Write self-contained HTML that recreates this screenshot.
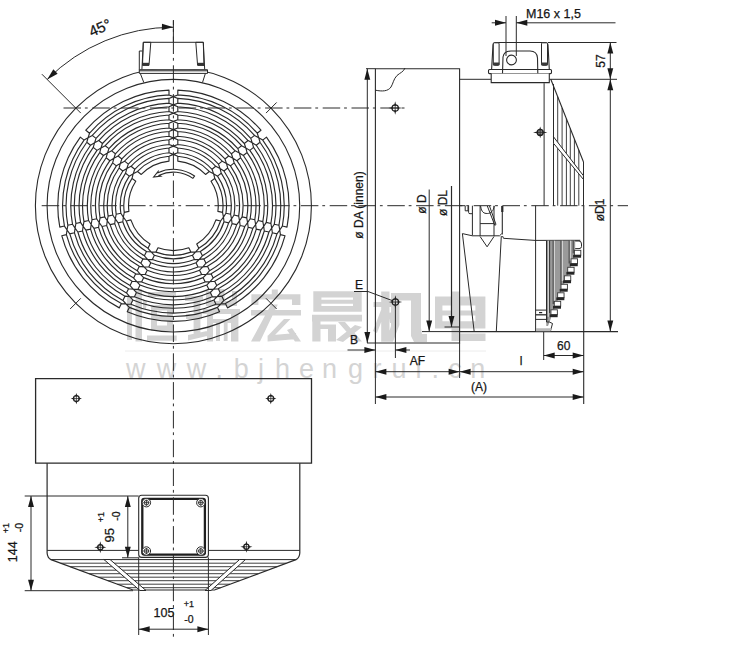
<!DOCTYPE html>
<html><head><meta charset="utf-8"><style>
html,body{margin:0;padding:0;background:#fff;width:750px;height:647px;overflow:hidden}
svg{display:block}
text{font-family:"Liberation Sans",sans-serif}
</style></head><body>
<svg width="750" height="647" viewBox="0 0 750 647">
<rect width="750" height="647" fill="#fff"/>
<path d="M127,297h5v43h-5ZM135.5,289h6.5v52.6h-6.5ZM143,299 L147,301 L146,309 L143,308ZM148,292h28v5h-28ZM151,305h22v5.5h-22ZM151,325.5h22v5.5h-22ZM151,305h6v26h-6ZM167,305h6v26h-6ZM151,316h22v5h-22ZM147,335.5h29.7v5.2h-29.7ZM185,296h18v5h-18ZM186,314h16v5h-16ZM193.6,296h6.8v41h-6.8ZM188,335 L207,331 L207,336 L188,340.4ZM206,291h5v14h-5ZM219,289h5.5v16h-5.5ZM232,291h5v14h-5ZM206,301h31v5h-31ZM203,309h37v5h-37ZM207,314h6v27.4h-6ZM231,314h7.4v27.4h-7.4ZM213,319h18v4h-18ZM216,321h4v20h-4ZM223.8,321h3.8v20h-3.8ZM271.8,289.5h6v6h-6ZM251.4,294.3h49v5.3h-49ZM251.4,294.3h7v10.6h-7ZM292,294.3h8.4v10.6h-8.4ZM251,310h50v5.5h-50ZM271,304.5 L277.8,304.5 L260,341.5 L251,341.5ZM284,319 L290.5,319 L274,336 L267.6,336ZM267.6,335.5 L296,333 L297,339 L267.6,341.5ZM287,330 L292,328 L301,341.5 L295,341.5ZM313.3,291.2h48.4v6.2h-48.4ZM313.3,299.8h48.4v3.9h-48.4ZM313.3,306h48.4v5.8h-48.4ZM313.3,291.2h8.1v20.6h-8.1ZM353,291.2h8.7v20.6h-8.7ZM312,314.7h50v6.7h-50ZM312.3,314.7h8.2v26.8h-8.2ZM320.5,324.5h15.5v4.5h-15.5ZM328,324.5h8v17h-8ZM338,322 L345,322 L362,341.5 L355,341.5ZM355,325 L362,327 L343,342 L336,340ZM381.2,291.4h8.3v50.4h-8.3ZM373.5,302h19v5h-19ZM381,310 L385,312 L377,333 L373,331ZM389,313 L392,312 L393,322 L390,323ZM391,293 L399.4,293 L399.4,325 L393,341.8 L386,341.8 L391,326ZM391,293h30v7.5h-30ZM411,293h10v37h-10ZM411,328 L421,328 L422,334 L427,334 L427,342 L414,342 L411,336ZM435,296.4h50.4v9.1h-50.4ZM435,310.4h50.4v5h-50.4ZM435,321.2h50.4v7.4h-50.4ZM435,296.4h7.4v32.2h-7.4ZM475.4,296.4h10v32.2h-10ZM450.8,296.4h9.6v32.2h-9.6ZM451.5,291.4h8.2v6h-8.2ZM451.5,328h8.2v13h-8.2ZM451.5,333.6h34v7.4h-34Z" fill="#d3d3d3" fill-rule="nonzero"/>
<line x1="125" y1="351" x2="486" y2="351" stroke="#ececec" stroke-width="1"/>
<text x="126 156.7 186.7 215.5 233.7 257.9 274.9 299.1 321.9 348 372.6 391.4 415.6 431.5 448.3 470.3" y="378" font-size="27" fill="#d4d4d4" font-family="Liberation Sans, sans-serif">www.bjhengrui.cn</text>
<line x1="40.5" y1="205.7" x2="628" y2="205.7" stroke="#2a2a2a" stroke-width="1.0" stroke-dasharray="17.5 3.9 2.8 4.6" stroke-dashoffset="27.6"/>
<line x1="63.5" y1="108" x2="405" y2="108" stroke="#2a2a2a" stroke-width="1.0" stroke-dasharray="17.5 3.9 2.8 4.6" stroke-dashoffset="0"/>
<circle cx="173.4" cy="205.7" r="138" fill="none" stroke="#2a2a2a" stroke-width="1.1"/>
<circle cx="173.4" cy="205.7" r="126.3" fill="none" stroke="#2a2a2a" stroke-width="1.1"/>
<path d="M169,90.18 A115.6,115.6 0 0 0 85.83,130.24 L89.55,133.2 A110.85,110.85 0 0 1 169,94.94 Z M169,98.44 A107.35,107.35 0 0 0 92.28,135.38 L96,138.35 A102.6,102.6 0 0 1 169,103.19 Z M169,106.7 A99.1,99.1 0 0 0 98.74,140.53 L102.46,143.5 A94.35,94.35 0 0 1 169,111.45 Z M169,114.96 A90.85,90.85 0 0 0 105.2,145.68 L108.92,148.65 A86.1,86.1 0 0 1 169,119.71 Z M169,123.22 A82.6,82.6 0 0 0 111.66,150.83 L115.38,153.8 A77.85,77.85 0 0 1 169,127.97 Z M169,131.48 A74.35,74.35 0 0 0 118.12,155.98 L121.84,158.95 A69.6,69.6 0 0 1 169,136.24 Z M169,139.75 A66.1,66.1 0 0 0 124.58,161.14 L128.3,164.11 A61.35,61.35 0 0 1 169,144.51 Z M169,148.02 A57.85,57.85 0 0 0 131.05,166.3 L134.77,169.27 A53.1,53.1 0 0 1 169,152.78 Z M169,156.3 A49.6,49.6 0 0 0 137.52,171.46 L141.25,174.43 A44.85,44.85 0 0 1 169,161.07 Z M169,94.94 L173.4,96.6 M177.8,94.94 L173.4,96.6 M169,98.44 L173.4,96.6 M177.8,98.44 L173.4,96.6 M169,103.19 L173.4,104.85 M177.8,103.19 L173.4,104.85 M169,106.7 L173.4,104.85 M177.8,106.7 L173.4,104.85 M169,111.45 L173.4,113.1 M177.8,111.45 L173.4,113.1 M169,114.96 L173.4,113.1 M177.8,114.96 L173.4,113.1 M169,119.71 L173.4,121.35 M177.8,119.71 L173.4,121.35 M169,123.22 L173.4,121.35 M177.8,123.22 L173.4,121.35 M169,127.97 L173.4,129.6 M177.8,127.97 L173.4,129.6 M169,131.48 L173.4,129.6 M177.8,131.48 L173.4,129.6 M169,136.24 L173.4,137.85 M177.8,136.24 L173.4,137.85 M169,139.75 L173.4,137.85 M177.8,139.75 L173.4,137.85 M169,144.51 L173.4,146.1 M177.8,144.51 L173.4,146.1 M169,148.02 L173.4,146.1 M177.8,148.02 L173.4,146.1 M169,152.78 L173.4,154.35 M177.8,152.78 L173.4,154.35 M169,156.3 L173.4,154.35 M177.8,156.3 L173.4,154.35 M80.34,137.12 A115.6,115.6 0 0 0 59.8,227.12 L64.44,226.06 A110.85,110.85 0 0 1 84.06,140.08 Z M86.8,142.26 A107.35,107.35 0 0 0 67.85,225.28 L72.49,224.22 A102.6,102.6 0 0 1 90.51,145.23 Z M93.25,147.41 A99.1,99.1 0 0 0 75.9,223.44 L80.54,222.38 A94.35,94.35 0 0 1 96.97,150.38 Z M99.71,152.56 A90.85,90.85 0 0 0 83.95,221.6 L88.59,220.54 A86.1,86.1 0 0 1 103.43,155.53 Z M106.17,157.71 A82.6,82.6 0 0 0 92.01,219.76 L96.64,218.71 A77.85,77.85 0 0 1 109.89,160.68 Z M112.63,162.86 A74.35,74.35 0 0 0 100.06,217.93 L104.7,216.87 A69.6,69.6 0 0 1 116.35,165.83 Z M119.09,168.02 A66.1,66.1 0 0 0 108.12,216.09 L112.76,215.03 A61.35,61.35 0 0 1 122.81,170.99 Z M125.56,173.18 A57.85,57.85 0 0 0 116.18,214.25 L120.83,213.19 A53.1,53.1 0 0 1 129.28,176.15 Z M132.03,178.34 A49.6,49.6 0 0 0 124.26,212.4 L128.91,211.34 A44.85,44.85 0 0 1 135.76,181.31 Z M84.06,140.08 L88.1,137.68 M89.55,133.2 L88.1,137.68 M86.8,142.26 L88.1,137.68 M92.28,135.38 L88.1,137.68 M90.51,145.23 L94.55,142.82 M96,138.35 L94.55,142.82 M93.25,147.41 L94.55,142.82 M98.74,140.53 L94.55,142.82 M96.97,150.38 L101,147.96 M102.46,143.5 L101,147.96 M99.71,152.56 L101,147.96 M105.2,145.68 L101,147.96 M103.43,155.53 L107.45,153.11 M108.92,148.65 L107.45,153.11 M106.17,157.71 L107.45,153.11 M111.66,150.83 L107.45,153.11 M109.89,160.68 L113.9,158.25 M115.38,153.8 L113.9,158.25 M112.63,162.86 L113.9,158.25 M118.12,155.98 L113.9,158.25 M116.35,165.83 L120.35,163.4 M121.84,158.95 L120.35,163.4 M119.09,168.02 L120.35,163.4 M124.58,161.14 L120.35,163.4 M122.81,170.99 L126.8,168.54 M128.3,164.11 L126.8,168.54 M125.56,173.18 L126.8,168.54 M131.05,166.3 L126.8,168.54 M129.28,176.15 L133.25,173.68 M134.77,169.27 L133.25,173.68 M132.03,178.34 L133.25,173.68 M137.52,171.46 L133.25,173.68 M61.76,235.69 A115.6,115.6 0 0 0 119.32,307.87 L121.38,303.58 A110.85,110.85 0 0 1 66.39,234.64 Z M69.81,233.86 A107.35,107.35 0 0 0 122.9,300.43 L124.96,296.15 A102.6,102.6 0 0 1 74.44,232.8 Z M77.86,232.02 A99.1,99.1 0 0 0 126.48,292.99 L128.54,288.7 A94.35,94.35 0 0 1 82.49,230.96 Z M85.91,230.18 A90.85,90.85 0 0 0 130.06,285.55 L132.13,281.26 A86.1,86.1 0 0 1 90.55,229.12 Z M93.96,228.34 A82.6,82.6 0 0 0 133.65,278.11 L135.71,273.82 A77.85,77.85 0 0 1 98.6,227.29 Z M102.02,226.51 A74.35,74.35 0 0 0 137.23,270.66 L139.3,266.37 A69.6,69.6 0 0 1 106.66,225.45 Z M110.08,224.67 A66.1,66.1 0 0 0 140.82,263.21 L142.89,258.92 A61.35,61.35 0 0 1 114.72,223.61 Z M118.14,222.83 A57.85,57.85 0 0 0 144.41,255.76 L146.48,251.47 A53.1,53.1 0 0 1 122.79,221.76 Z M126.21,220.98 A49.6,49.6 0 0 0 148,248.3 L150.07,244 A44.85,44.85 0 0 1 130.86,219.92 Z M66.39,234.64 L67.04,229.98 M64.44,226.06 L67.04,229.98 M69.81,233.86 L67.04,229.98 M67.85,225.28 L67.04,229.98 M74.44,232.8 L75.08,228.14 M72.49,224.22 L75.08,228.14 M77.86,232.02 L75.08,228.14 M75.9,223.44 L75.08,228.14 M82.49,230.96 L83.12,226.31 M80.54,222.38 L83.12,226.31 M85.91,230.18 L83.12,226.31 M83.95,221.6 L83.12,226.31 M90.55,229.12 L91.16,224.47 M88.59,220.54 L91.16,224.47 M93.96,228.34 L91.16,224.47 M92.01,219.76 L91.16,224.47 M98.6,227.29 L99.21,222.63 M96.64,218.71 L99.21,222.63 M102.02,226.51 L99.21,222.63 M100.06,217.93 L99.21,222.63 M106.66,225.45 L107.25,220.8 M104.7,216.87 L107.25,220.8 M110.08,224.67 L107.25,220.8 M108.12,216.09 L107.25,220.8 M114.72,223.61 L115.29,218.96 M112.76,215.03 L115.29,218.96 M118.14,222.83 L115.29,218.96 M116.18,214.25 L115.29,218.96 M122.79,221.76 L123.34,217.13 M120.83,213.19 L123.34,217.13 M126.21,220.98 L123.34,217.13 M124.26,212.4 L123.34,217.13 M127.24,311.69 A115.6,115.6 0 0 0 219.56,311.69 L217.49,307.4 A110.85,110.85 0 0 1 129.31,307.4 Z M130.83,304.25 A107.35,107.35 0 0 0 215.97,304.25 L213.91,299.96 A102.6,102.6 0 0 1 132.89,299.96 Z M134.41,296.81 A99.1,99.1 0 0 0 212.39,296.81 L210.33,292.52 A94.35,94.35 0 0 1 136.47,292.52 Z M137.99,289.37 A90.85,90.85 0 0 0 208.81,289.37 L206.74,285.08 A86.1,86.1 0 0 1 140.06,285.08 Z M141.58,281.92 A82.6,82.6 0 0 0 205.22,281.92 L203.16,277.64 A77.85,77.85 0 0 1 143.64,277.64 Z M145.16,274.48 A74.35,74.35 0 0 0 201.64,274.48 L199.57,270.19 A69.6,69.6 0 0 1 147.23,270.19 Z M148.75,267.03 A66.1,66.1 0 0 0 198.05,267.03 L195.99,262.74 A61.35,61.35 0 0 1 150.81,262.74 Z M152.34,259.58 A57.85,57.85 0 0 0 194.46,259.58 L192.4,255.29 A53.1,53.1 0 0 1 154.4,255.29 Z M155.93,252.12 A49.6,49.6 0 0 0 190.87,252.12 L188.8,247.82 A44.85,44.85 0 0 1 158,247.82 Z M129.31,307.4 L126.06,304 M121.38,303.58 L126.06,304 M130.83,304.25 L126.06,304 M122.9,300.43 L126.06,304 M132.89,299.96 L129.64,296.56 M124.96,296.15 L129.64,296.56 M134.41,296.81 L129.64,296.56 M126.48,292.99 L129.64,296.56 M136.47,292.52 L133.22,289.13 M128.54,288.7 L133.22,289.13 M137.99,289.37 L133.22,289.13 M130.06,285.55 L133.22,289.13 M140.06,285.08 L136.8,281.7 M132.13,281.26 L136.8,281.7 M141.58,281.92 L136.8,281.7 M133.65,278.11 L136.8,281.7 M143.64,277.64 L140.38,274.26 M135.71,273.82 L140.38,274.26 M145.16,274.48 L140.38,274.26 M137.23,270.66 L140.38,274.26 M147.23,270.19 L143.96,266.83 M139.3,266.37 L143.96,266.83 M148.75,267.03 L143.96,266.83 M140.82,263.21 L143.96,266.83 M150.81,262.74 L147.54,259.4 M142.89,258.92 L147.54,259.4 M152.34,259.58 L147.54,259.4 M144.41,255.76 L147.54,259.4 M154.4,255.29 L151.12,251.96 M146.48,251.47 L151.12,251.96 M155.93,252.12 L151.12,251.96 M148,248.3 L151.12,251.96 M227.48,307.87 A115.6,115.6 0 0 0 285.04,235.69 L280.41,234.64 A110.85,110.85 0 0 1 225.42,303.58 Z M223.9,300.43 A107.35,107.35 0 0 0 276.99,233.86 L272.36,232.8 A102.6,102.6 0 0 1 221.84,296.15 Z M220.32,292.99 A99.1,99.1 0 0 0 268.94,232.02 L264.31,230.96 A94.35,94.35 0 0 1 218.26,288.7 Z M216.74,285.55 A90.85,90.85 0 0 0 260.89,230.18 L256.25,229.12 A86.1,86.1 0 0 1 214.67,281.26 Z M213.15,278.11 A82.6,82.6 0 0 0 252.84,228.34 L248.2,227.29 A77.85,77.85 0 0 1 211.09,273.82 Z M209.57,270.66 A74.35,74.35 0 0 0 244.78,226.51 L240.14,225.45 A69.6,69.6 0 0 1 207.5,266.37 Z M205.98,263.21 A66.1,66.1 0 0 0 236.72,224.67 L232.08,223.61 A61.35,61.35 0 0 1 203.91,258.92 Z M202.39,255.76 A57.85,57.85 0 0 0 228.66,222.83 L224.01,221.76 A53.1,53.1 0 0 1 200.32,251.47 Z M198.8,248.3 A49.6,49.6 0 0 0 220.59,220.98 L215.94,219.92 A44.85,44.85 0 0 1 196.73,244 Z M225.42,303.58 L220.74,304 M217.49,307.4 L220.74,304 M223.9,300.43 L220.74,304 M215.97,304.25 L220.74,304 M221.84,296.15 L217.16,296.56 M213.91,299.96 L217.16,296.56 M220.32,292.99 L217.16,296.56 M212.39,296.81 L217.16,296.56 M218.26,288.7 L213.58,289.13 M210.33,292.52 L213.58,289.13 M216.74,285.55 L213.58,289.13 M208.81,289.37 L213.58,289.13 M214.67,281.26 L210,281.7 M206.74,285.08 L210,281.7 M213.15,278.11 L210,281.7 M205.22,281.92 L210,281.7 M211.09,273.82 L206.42,274.26 M203.16,277.64 L206.42,274.26 M209.57,270.66 L206.42,274.26 M201.64,274.48 L206.42,274.26 M207.5,266.37 L202.84,266.83 M199.57,270.19 L202.84,266.83 M205.98,263.21 L202.84,266.83 M198.05,267.03 L202.84,266.83 M203.91,258.92 L199.26,259.4 M195.99,262.74 L199.26,259.4 M202.39,255.76 L199.26,259.4 M194.46,259.58 L199.26,259.4 M200.32,251.47 L195.68,251.96 M192.4,255.29 L195.68,251.96 M198.8,248.3 L195.68,251.96 M190.87,252.12 L195.68,251.96 M287,227.12 A115.6,115.6 0 0 0 266.46,137.12 L262.74,140.08 A110.85,110.85 0 0 1 282.36,226.06 Z M278.95,225.28 A107.35,107.35 0 0 0 260,142.26 L256.29,145.23 A102.6,102.6 0 0 1 274.31,224.22 Z M270.9,223.44 A99.1,99.1 0 0 0 253.55,147.41 L249.83,150.38 A94.35,94.35 0 0 1 266.26,222.38 Z M262.85,221.6 A90.85,90.85 0 0 0 247.09,152.56 L243.37,155.53 A86.1,86.1 0 0 1 258.21,220.54 Z M254.79,219.76 A82.6,82.6 0 0 0 240.63,157.71 L236.91,160.68 A77.85,77.85 0 0 1 250.16,218.71 Z M246.74,217.93 A74.35,74.35 0 0 0 234.17,162.86 L230.45,165.83 A69.6,69.6 0 0 1 242.1,216.87 Z M238.68,216.09 A66.1,66.1 0 0 0 227.71,168.02 L223.99,170.99 A61.35,61.35 0 0 1 234.04,215.03 Z M230.62,214.25 A57.85,57.85 0 0 0 221.24,173.18 L217.52,176.15 A53.1,53.1 0 0 1 225.97,213.19 Z M222.54,212.4 A49.6,49.6 0 0 0 214.77,178.34 L211.04,181.31 A44.85,44.85 0 0 1 217.89,211.34 Z M282.36,226.06 L279.76,229.98 M280.41,234.64 L279.76,229.98 M278.95,225.28 L279.76,229.98 M276.99,233.86 L279.76,229.98 M274.31,224.22 L271.72,228.14 M272.36,232.8 L271.72,228.14 M270.9,223.44 L271.72,228.14 M268.94,232.02 L271.72,228.14 M266.26,222.38 L263.68,226.31 M264.31,230.96 L263.68,226.31 M262.85,221.6 L263.68,226.31 M260.89,230.18 L263.68,226.31 M258.21,220.54 L255.64,224.47 M256.25,229.12 L255.64,224.47 M254.79,219.76 L255.64,224.47 M252.84,228.34 L255.64,224.47 M250.16,218.71 L247.59,222.63 M248.2,227.29 L247.59,222.63 M246.74,217.93 L247.59,222.63 M244.78,226.51 L247.59,222.63 M242.1,216.87 L239.55,220.8 M240.14,225.45 L239.55,220.8 M238.68,216.09 L239.55,220.8 M236.72,224.67 L239.55,220.8 M234.04,215.03 L231.51,218.96 M232.08,223.61 L231.51,218.96 M230.62,214.25 L231.51,218.96 M228.66,222.83 L231.51,218.96 M225.97,213.19 L223.46,217.13 M224.01,221.76 L223.46,217.13 M222.54,212.4 L223.46,217.13 M220.59,220.98 L223.46,217.13 M260.97,130.24 A115.6,115.6 0 0 0 177.8,90.18 L177.8,94.94 A110.85,110.85 0 0 1 257.25,133.2 Z M254.52,135.38 A107.35,107.35 0 0 0 177.8,98.44 L177.8,103.19 A102.6,102.6 0 0 1 250.8,138.35 Z M248.06,140.53 A99.1,99.1 0 0 0 177.8,106.7 L177.8,111.45 A94.35,94.35 0 0 1 244.34,143.5 Z M241.6,145.68 A90.85,90.85 0 0 0 177.8,114.96 L177.8,119.71 A86.1,86.1 0 0 1 237.88,148.65 Z M235.14,150.83 A82.6,82.6 0 0 0 177.8,123.22 L177.8,127.97 A77.85,77.85 0 0 1 231.42,153.8 Z M228.68,155.98 A74.35,74.35 0 0 0 177.8,131.48 L177.8,136.24 A69.6,69.6 0 0 1 224.96,158.95 Z M222.22,161.14 A66.1,66.1 0 0 0 177.8,139.75 L177.8,144.51 A61.35,61.35 0 0 1 218.5,164.11 Z M215.75,166.3 A57.85,57.85 0 0 0 177.8,148.02 L177.8,152.78 A53.1,53.1 0 0 1 212.03,169.27 Z M209.28,171.46 A49.6,49.6 0 0 0 177.8,156.3 L177.8,161.07 A44.85,44.85 0 0 1 205.55,174.43 Z M257.25,133.2 L258.7,137.68 M262.74,140.08 L258.7,137.68 M254.52,135.38 L258.7,137.68 M260,142.26 L258.7,137.68 M250.8,138.35 L252.25,142.82 M256.29,145.23 L252.25,142.82 M248.06,140.53 L252.25,142.82 M253.55,147.41 L252.25,142.82 M244.34,143.5 L245.8,147.96 M249.83,150.38 L245.8,147.96 M241.6,145.68 L245.8,147.96 M247.09,152.56 L245.8,147.96 M237.88,148.65 L239.35,153.11 M243.37,155.53 L239.35,153.11 M235.14,150.83 L239.35,153.11 M240.63,157.71 L239.35,153.11 M231.42,153.8 L232.9,158.25 M236.91,160.68 L232.9,158.25 M228.68,155.98 L232.9,158.25 M234.17,162.86 L232.9,158.25 M224.96,158.95 L226.45,163.4 M230.45,165.83 L226.45,163.4 M222.22,161.14 L226.45,163.4 M227.71,168.02 L226.45,163.4 M218.5,164.11 L220,168.54 M223.99,170.99 L220,168.54 M215.75,166.3 L220,168.54 M221.24,173.18 L220,168.54 M212.03,169.27 L213.55,173.68 M217.52,176.15 L213.55,173.68 M209.28,171.46 L213.55,173.68 M214.77,178.34 L213.55,173.68" fill="none" stroke="#2a2a2a" stroke-width="1.15" stroke-linejoin="round"/>
<path d="M194.54,176.07 A36.4,36.4 0 0 0 158.02,172.71 L158.11,171.35 L153.63,176.94 L160.82,176.06 L159.2,175.25 A33.6,33.6 0 0 1 192.91,178.35 Z" fill="none" stroke="#2a2a2a" stroke-width="1.1" />
<path d="M173.4,27.2 A178.5,178.5 0 0 0 47.18,79.48" fill="none" stroke="#2a2a2a" stroke-width="1.0" />
<polygon points="173.4,27.2 161.81,29.95 162,23.76" fill="#1a1a1a"/>
<polygon points="47.18,79.48 53.34,69.29 57.63,73.76" fill="#1a1a1a"/>
<line x1="41.88" y1="74.18" x2="80.77" y2="113.07" stroke="#2a2a2a" stroke-width="1.0"/>
<line x1="266.03" y1="113.07" x2="276.64" y2="102.46" stroke="#2a2a2a" stroke-width="1.0"/>
<line x1="80.77" y1="298.33" x2="70.16" y2="308.94" stroke="#2a2a2a" stroke-width="1.0"/>
<line x1="266.03" y1="298.33" x2="276.64" y2="308.94" stroke="#2a2a2a" stroke-width="1.0"/>
<text x="102" y="32.5" font-size="15" text-anchor="middle" fill="#161616" stroke="#161616" stroke-width="0.25" transform="rotate(-24 102 32.5)" >45°</text>
<g>
<polyline points="139.3,70 139.3,51 142.5,51" fill="none" stroke="#2a2a2a" stroke-width="1.0"/>
<polyline points="141.9,69.7 143.3,42.3 203.3,42.3 204.7,69.7" fill="#fff" stroke="#2a2a2a" stroke-width="1.0"/>
<polygon points="143.3,42.3 150.8,42.3 149,65.4 142.5,65.4" fill="none" stroke="#2a2a2a" stroke-width="1.0"/>
<polygon points="195.8,42.3 203.3,42.3 204,65.4 197.6,65.4" fill="none" stroke="#2a2a2a" stroke-width="1.0"/>
<rect x="142.8" y="62.8" width="6.2" height="2.6" fill="#333"/>
<rect x="197.8" y="62.8" width="6.2" height="2.6" fill="#333"/>
<polygon points="139.3,69.7 207.5,69.7 207.5,73.4 139.3,73.4" fill="#fff" stroke="#2a2a2a" stroke-width="1.0"/>
<line x1="139.3" y1="70.8" x2="207.5" y2="70.8" stroke="#2a2a2a" stroke-width="1.0"/>
<polyline points="140.3,73.4 143.8,82.5" fill="none" stroke="#2a2a2a" stroke-width="1.0"/>
<polyline points="205.4,73.4 202.5,82.5" fill="none" stroke="#2a2a2a" stroke-width="1.0"/>
</g>
<polygon points="375.4,68.7 459.6,68.7 459.6,343 375.4,343" fill="none" stroke="#2a2a2a" stroke-width="1.1"/>
<line x1="366" y1="68.7" x2="375.4" y2="68.7" stroke="#2a2a2a" stroke-width="1.0"/>
<line x1="367" y1="343" x2="375.4" y2="343" stroke="#2a2a2a" stroke-width="1.0"/>
<path d="M375.4,90.2 C382,91.5 388,91.5 391,87 C393.2,83.5 393.5,79 397,75.5 C400,72.8 403.5,72 405,68" fill="none" stroke="#2a2a2a" stroke-width="1.0" />
<line x1="367.3" y1="68.7" x2="367.3" y2="343" stroke="#2a2a2a" stroke-width="1.0"/>
<polygon points="367.3,68.7 370.25,79.7 364.35,79.7" fill="#1a1a1a"/>
<polygon points="367.3,343 364.35,332 370.25,332" fill="#1a1a1a"/>
<text x="362.5" y="205" font-size="12" text-anchor="middle" fill="#161616" stroke="#161616" stroke-width="0.25" transform="rotate(-90 362.5 205)" >ø DA (innen)</text>
<circle cx="395.2" cy="108" r="3.2" fill="none" stroke="#1e1e1e" stroke-width="1.25"/>
<polygon points="402,108 397.44,109.1 397.44,106.9" fill="#1e1e1e"/>
<polygon points="388.4,108 392.96,106.9 392.96,109.1" fill="#1e1e1e"/>
<polygon points="395.2,114.8 394.1,110.24 396.3,110.24" fill="#1e1e1e"/>
<polygon points="395.2,101.2 396.3,105.76 394.1,105.76" fill="#1e1e1e"/>
<line x1="392" y1="108" x2="398.4" y2="108" stroke="#2a2a2a" stroke-width="0.8"/>
<line x1="395.2" y1="104.8" x2="395.2" y2="111.2" stroke="#2a2a2a" stroke-width="0.8"/>
<circle cx="395.4" cy="302" r="3.2" fill="none" stroke="#1e1e1e" stroke-width="1.25"/>
<polygon points="402.2,302 397.64,303.1 397.64,300.9" fill="#1e1e1e"/>
<polygon points="388.6,302 393.16,300.9 393.16,303.1" fill="#1e1e1e"/>
<polygon points="395.4,308.8 394.3,304.24 396.5,304.24" fill="#1e1e1e"/>
<polygon points="395.4,295.2 396.5,299.76 394.3,299.76" fill="#1e1e1e"/>
<line x1="392.2" y1="302" x2="398.6" y2="302" stroke="#2a2a2a" stroke-width="0.8"/>
<line x1="395.4" y1="298.8" x2="395.4" y2="305.2" stroke="#2a2a2a" stroke-width="0.8"/>
<line x1="395.4" y1="302" x2="395.4" y2="358" stroke="#2a2a2a" stroke-width="1.0"/>
<text x="359" y="289" font-size="12" text-anchor="middle" fill="#161616" stroke="#161616" stroke-width="0.25" >E</text>
<polyline points="354,291.5 368,291.5 392,300.5" fill="none" stroke="#2a2a2a" stroke-width="1.0"/>
<line x1="347.5" y1="350" x2="375.4" y2="350" stroke="#2a2a2a" stroke-width="1.0"/>
<polygon points="375.4,350 364.4,352.95 364.4,347.05" fill="#1a1a1a"/>
<line x1="395.4" y1="350" x2="410" y2="350" stroke="#2a2a2a" stroke-width="1.0"/>
<polygon points="395.4,350 406.4,347.05 406.4,352.95" fill="#1a1a1a"/>
<text x="354" y="344" font-size="12" text-anchor="middle" fill="#161616" stroke="#161616" stroke-width="0.25" >B</text>
<line x1="375.4" y1="343" x2="375.4" y2="404" stroke="#2a2a2a" stroke-width="1.0"/>
<line x1="459.6" y1="343" x2="459.6" y2="378" stroke="#2a2a2a" stroke-width="1.0"/>
<line x1="583.7" y1="205.7" x2="583.7" y2="404" stroke="#2a2a2a" stroke-width="1.1"/>
<line x1="375.4" y1="371.7" x2="459.6" y2="371.7" stroke="#2a2a2a" stroke-width="1.0"/>
<polygon points="375.4,371.7 386.4,368.75 386.4,374.65" fill="#1a1a1a"/>
<polygon points="459.6,371.7 448.6,374.65 448.6,368.75" fill="#1a1a1a"/>
<text x="417.5" y="365" font-size="12" text-anchor="middle" fill="#161616" stroke="#161616" stroke-width="0.25" >AF</text>
<line x1="459.6" y1="371.7" x2="583.7" y2="371.7" stroke="#2a2a2a" stroke-width="1.0"/>
<polygon points="459.6,371.7 470.6,368.75 470.6,374.65" fill="#1a1a1a"/>
<polygon points="583.7,371.7 572.7,374.65 572.7,368.75" fill="#1a1a1a"/>
<text x="521" y="365" font-size="12" text-anchor="middle" fill="#161616" stroke="#161616" stroke-width="0.25" >l</text>
<line x1="375.4" y1="397" x2="583.7" y2="397" stroke="#2a2a2a" stroke-width="1.0"/>
<polygon points="375.4,397 386.4,394.05 386.4,399.95" fill="#1a1a1a"/>
<polygon points="583.7,397 572.7,399.95 572.7,394.05" fill="#1a1a1a"/>
<text x="479" y="391" font-size="12" text-anchor="middle" fill="#161616" stroke="#161616" stroke-width="0.25" >(A)</text>
<line x1="543.7" y1="331.6" x2="543.7" y2="360" stroke="#2a2a2a" stroke-width="1.0"/>
<line x1="543.7" y1="355.5" x2="583.7" y2="355.5" stroke="#2a2a2a" stroke-width="1.0"/>
<polygon points="543.7,355.5 554.7,352.55 554.7,358.45" fill="#1a1a1a"/>
<polygon points="583.7,355.5 572.7,358.45 572.7,352.55" fill="#1a1a1a"/>
<text x="563.7" y="350" font-size="12" text-anchor="middle" fill="#161616" stroke="#161616" stroke-width="0.25" >60</text>
<line x1="429.2" y1="189.5" x2="429.2" y2="331.6" stroke="#2a2a2a" stroke-width="1.0"/>
<polygon points="429.2,331.6 426.25,320.6 432.15,320.6" fill="#1a1a1a"/>
<line x1="451.5" y1="186" x2="451.5" y2="327" stroke="#2a2a2a" stroke-width="1.2"/>
<polygon points="451.5,327 448.55,316 454.45,316" fill="#1a1a1a"/>
<line x1="422" y1="331.6" x2="459.6" y2="331.6" stroke="#2a2a2a" stroke-width="1.0"/>
<line x1="444.5" y1="327" x2="459.6" y2="327" stroke="#2a2a2a" stroke-width="1.0"/>
<text x="426" y="204" font-size="12" text-anchor="middle" fill="#161616" stroke="#161616" stroke-width="0.25" transform="rotate(-90 426 204)" >ø D</text>
<text x="447.2" y="203" font-size="12" text-anchor="middle" fill="#161616" stroke="#161616" stroke-width="0.25" transform="rotate(-90 447.2 203)" >ø DL</text>
<line x1="459.6" y1="79.3" x2="491.2" y2="79.3" stroke="#2a2a2a" stroke-width="1.0"/>
<line x1="549.3" y1="79.3" x2="617" y2="79.3" stroke="#2a2a2a" stroke-width="1.0"/>
<line x1="459.6" y1="331.6" x2="618" y2="331.6" stroke="#2a2a2a" stroke-width="1.1"/>
<path d="M493,45 Q493.3,42.5 495.5,42.5 H545.5 Q547.7,42.5 548,45 L549.3,69.5 H491.6 Z" fill="#fff" stroke="#2a2a2a" stroke-width="1.1" />
<rect x="488.5" y="69.5" width="63" height="4.1" rx="1" fill="#fff" stroke="#2a2a2a" stroke-width="1.1"/>
<polyline points="491.2,73.6 491.2,82.6 549.3,82.6 549.3,73.6" fill="#fff" stroke="#2a2a2a" stroke-width="1.1"/>
<rect x="493.3" y="42.8" width="5.8" height="22.5" rx="1" fill="#fff" stroke="#2a2a2a" stroke-width="1.0"/>
<rect x="541.5" y="42.8" width="6" height="22.5" rx="1" fill="#fff" stroke="#2a2a2a" stroke-width="1.0"/>
<rect x="493" y="62.5" width="6.4" height="2.8" fill="#3a3a3a"/>
<rect x="541.2" y="62.5" width="6.6" height="2.8" fill="#3a3a3a"/>
<path d="M502.5,73.3 L503,57 Q504,51 511,51 H530 Q537,51 537.5,58 L537.8,73.3" fill="none" stroke="#2a2a2a" stroke-width="1.1" />
<circle cx="511.5" cy="60" r="4.9" fill="none" stroke="#2a2a2a" stroke-width="1.1"/>
<line x1="506" y1="16" x2="506" y2="56" stroke="#2a2a2a" stroke-width="1.0"/>
<line x1="516.3" y1="16" x2="516.3" y2="56" stroke="#2a2a2a" stroke-width="1.0"/>
<line x1="491.7" y1="22.8" x2="506" y2="22.8" stroke="#2a2a2a" stroke-width="1.0"/>
<polygon points="506,22.8 495,25.75 495,19.85" fill="#1a1a1a"/>
<line x1="516.3" y1="22.8" x2="615.5" y2="22.8" stroke="#2a2a2a" stroke-width="1.0"/>
<polygon points="516.3,22.8 527.3,19.85 527.3,25.75" fill="#1a1a1a"/>
<text x="526" y="17.5" font-size="12.5" text-anchor="start" fill="#161616" stroke="#161616" stroke-width="0.25" >M16 x 1,5</text>
<line x1="548" y1="42.5" x2="616.5" y2="42.5" stroke="#2a2a2a" stroke-width="1.0"/>
<line x1="610.3" y1="42.5" x2="610.3" y2="331.6" stroke="#2a2a2a" stroke-width="1.0"/>
<polygon points="610.3,42.5 613.25,53.5 607.35,53.5" fill="#1a1a1a"/>
<polygon points="610.3,79.3 607.35,68.3 613.25,68.3" fill="#1a1a1a"/>
<polygon points="610.3,79.3 613.25,90.3 607.35,90.3" fill="#1a1a1a"/>
<polygon points="610.3,331.6 607.35,320.6 613.25,320.6" fill="#1a1a1a"/>
<text x="604.5" y="61" font-size="12" text-anchor="middle" fill="#161616" stroke="#161616" stroke-width="0.25" transform="rotate(-90 604.5 61)" >57</text>
<text x="603.5" y="210" font-size="12" text-anchor="middle" fill="#161616" stroke="#161616" stroke-width="0.25" transform="rotate(-90 603.5 210)" >øD1</text>
<circle cx="540.2" cy="132.4" r="3" fill="#888" stroke="#1e1e1e" stroke-width="1.25"/>
<polygon points="547.4,132.4 542.3,133.5 542.3,131.3" fill="#1e1e1e"/>
<polygon points="533,132.4 538.1,131.3 538.1,133.5" fill="#1e1e1e"/>
<polygon points="540.2,138.2 539.1,134.5 541.3,134.5" fill="#1e1e1e"/>
<polygon points="540.2,126.6 541.3,130.3 539.1,130.3" fill="#1e1e1e"/>
<line x1="537.2" y1="132.4" x2="543.2" y2="132.4" stroke="#2a2a2a" stroke-width="0.8"/>
<line x1="540.2" y1="129.4" x2="540.2" y2="135.4" stroke="#2a2a2a" stroke-width="0.8"/>
<line x1="544.1" y1="83.2" x2="544.1" y2="205.7" stroke="#2a2a2a" stroke-width="1.0"/>
<line x1="550.8" y1="79.3" x2="583.5" y2="162" stroke="#2a2a2a" stroke-width="1.1"/>
<line x1="553.5" y1="84" x2="553.5" y2="205.7" stroke="#2a2a2a" stroke-width="1.0"/>
<line x1="557.7" y1="96.75" x2="557.7" y2="205.7" stroke="#2a2a2a" stroke-width="0.9"/>
<line x1="562.1" y1="107.88" x2="562.1" y2="205.7" stroke="#2a2a2a" stroke-width="0.9"/>
<line x1="566.4" y1="118.75" x2="566.4" y2="205.7" stroke="#2a2a2a" stroke-width="0.9"/>
<line x1="570.3" y1="128.62" x2="570.3" y2="205.7" stroke="#2a2a2a" stroke-width="0.9"/>
<line x1="574.4" y1="138.99" x2="574.4" y2="205.7" stroke="#2a2a2a" stroke-width="0.9"/>
<line x1="578.8" y1="150.11" x2="578.8" y2="205.7" stroke="#2a2a2a" stroke-width="0.9"/>
<line x1="583.5" y1="162" x2="583.5" y2="205.7" stroke="#2a2a2a" stroke-width="1.0"/>
<polygon points="553.5,136.8 583.5,175.8 583.5,179.5 553.5,143.3" fill="#fff" stroke="#2a2a2a" stroke-width="1.0"/>
<polyline points="459.6,205.7 465.2,205.7 465.2,210.8 468,210.8 468,206.2" fill="none" stroke="#2a2a2a" stroke-width="1.0"/>
<path d="M468.6,206 V212.5 Q468.6,213.7 470,213.7 H472.4" fill="none" stroke="#2a2a2a" stroke-width="1.0" />
<line x1="472.4" y1="205.7" x2="472.4" y2="235.5" stroke="#2a2a2a" stroke-width="1.0"/>
<line x1="480.1" y1="205.7" x2="480.1" y2="236" stroke="#2a2a2a" stroke-width="1.0"/>
<line x1="494" y1="205.7" x2="494" y2="236" stroke="#2a2a2a" stroke-width="1.0"/>
<line x1="480.1" y1="223.6" x2="494" y2="223.6" stroke="#2a2a2a" stroke-width="1.0"/>
<path d="M480.6,206 C481.5,212.5 484,213.5 487.3,213.5 C491,213.5 493.5,211 494.2,206" fill="none" stroke="#2a2a2a" stroke-width="1.0" />
<polyline points="487.3,206 494.8,225.3 496,224.5 489.5,206" fill="none" stroke="#2a2a2a" stroke-width="1.0"/>
<line x1="502.3" y1="205.7" x2="502.3" y2="234.5" stroke="#2a2a2a" stroke-width="1.1"/>
<line x1="502.3" y1="206" x2="502.3" y2="212" stroke="#2a2a2a" stroke-width="2.2"/>
<polyline points="462.4,233.6 472.4,235.8 499.5,235.8 501.8,233.6" fill="none" stroke="#2a2a2a" stroke-width="1.0"/>
<line x1="462.4" y1="233.6" x2="474.2" y2="331.6" stroke="#2a2a2a" stroke-width="1.0"/>
<line x1="501.3" y1="236" x2="496.3" y2="331.6" stroke="#2a2a2a" stroke-width="1.0"/>
<polyline points="480.1,236.5 487.1,246.8 494,236.5" fill="none" stroke="#2a2a2a" stroke-width="1.0"/>
<polyline points="502.5,236 503.5,238.3 535,240.4 580.3,240.3" fill="none" stroke="#2a2a2a" stroke-width="1.0"/>
<line x1="535.6" y1="205.7" x2="535.6" y2="331.6" stroke="#2a2a2a" stroke-width="1.0"/>
<polygon points="546.3,240.7 575.2,240.7 575.2,250.3 574.4,250.3 574.4,258.8 571.05,258.8 571.05,267.3 567.7,267.3 567.7,275.8 564.35,275.8 564.35,284.3 561,284.3 561,292.8 557.65,292.8 557.65,301.3 554.3,301.3 554.3,309.8 550.95,309.8 550.95,318.3 548,326 546.3,326" fill="#9a9a9a" stroke="none"/>
<line x1="546.8" y1="240.7" x2="546.8" y2="320.33" stroke="#333" stroke-width="1.2"/>
<line x1="548.2" y1="240.7" x2="548.2" y2="316.78" stroke="#fff" stroke-width="0.8"/>
<line x1="549.6" y1="240.7" x2="549.6" y2="313.23" stroke="#333" stroke-width="1.0"/>
<line x1="553.2" y1="240.7" x2="553.2" y2="304.09" stroke="#333" stroke-width="1.0"/>
<line x1="554.3" y1="240.7" x2="554.3" y2="301.3" stroke="#fff" stroke-width="0.7"/>
<line x1="561" y1="240.7" x2="561" y2="284.3" stroke="#333" stroke-width="1.0"/>
<line x1="562.3" y1="240.7" x2="562.3" y2="281" stroke="#fff" stroke-width="0.7"/>
<line x1="569.2" y1="240.7" x2="569.2" y2="263.49" stroke="#333" stroke-width="1.0"/>
<line x1="570.3" y1="240.7" x2="570.3" y2="260.7" stroke="#fff" stroke-width="0.7"/>
<line x1="573.2" y1="240.7" x2="573.2" y2="253.34" stroke="#333" stroke-width="0.9"/>
<rect x="574.4" y="250.3" width="6.4" height="4.9" fill="#fff" stroke="#333" stroke-width="0.9"/>
<rect x="573.1" y="254.9" width="8" height="2.8" fill="#262626"/>
<rect x="571.05" y="258.8" width="6.4" height="4.9" fill="#fff" stroke="#333" stroke-width="0.9"/>
<rect x="569.75" y="263.4" width="8" height="2.8" fill="#262626"/>
<rect x="567.7" y="267.3" width="6.4" height="4.9" fill="#fff" stroke="#333" stroke-width="0.9"/>
<rect x="566.4" y="271.9" width="8" height="2.8" fill="#262626"/>
<rect x="564.35" y="275.8" width="6.4" height="4.9" fill="#fff" stroke="#333" stroke-width="0.9"/>
<rect x="563.05" y="280.4" width="8" height="2.8" fill="#262626"/>
<rect x="561" y="284.3" width="6.4" height="4.9" fill="#fff" stroke="#333" stroke-width="0.9"/>
<rect x="559.7" y="288.9" width="8" height="2.8" fill="#262626"/>
<rect x="557.65" y="292.8" width="6.4" height="4.9" fill="#fff" stroke="#333" stroke-width="0.9"/>
<rect x="556.35" y="297.4" width="8" height="2.8" fill="#262626"/>
<rect x="554.3" y="301.3" width="6.4" height="4.9" fill="#fff" stroke="#333" stroke-width="0.9"/>
<rect x="553" y="305.9" width="8" height="2.8" fill="#262626"/>
<rect x="550.95" y="309.8" width="6.4" height="4.9" fill="#fff" stroke="#333" stroke-width="0.9"/>
<rect x="549.65" y="314.4" width="8" height="2.8" fill="#262626"/>
<path d="M575.2,241 H579 Q581.5,241 581.5,244 V246.5 Q581.5,248.6 579,248.6 H575.2" fill="none" stroke="#2a2a2a" stroke-width="1.0" />
<line x1="535.6" y1="310.1" x2="546.5" y2="310.1" stroke="#2a2a2a" stroke-width="1.0"/>
<line x1="535.6" y1="314.8" x2="546.5" y2="314.8" stroke="#2a2a2a" stroke-width="1.3"/>
<line x1="535.6" y1="319.4" x2="546.5" y2="319.4" stroke="#2a2a2a" stroke-width="1.0"/>
<rect x="539" y="312" width="3.2" height="1.2" fill="#222"/>
<line x1="546.5" y1="240.7" x2="546.5" y2="322" stroke="#2a2a2a" stroke-width="1.0"/>
<path d="M546.5,322 Q549,321.2 552.5,323.5 L550.5,331 H536" fill="none" stroke="#2a2a2a" stroke-width="1.0" />
<polygon points="536,328.3 551.5,328.3 550.5,331.2 536,331.2" fill="#bbb"/>
<polygon points="35.6,378.7 311.5,378.7 311.5,463.2 35.6,463.2" fill="none" stroke="#2a2a2a" stroke-width="1.3"/>
<circle cx="76.35" cy="398.6" r="2.9" fill="none" stroke="#1e1e1e" stroke-width="1.25"/>
<polygon points="81.95,398.6 78.38,399.7 78.38,397.5" fill="#1e1e1e"/>
<polygon points="70.75,398.6 74.32,397.5 74.32,399.7" fill="#1e1e1e"/>
<polygon points="76.35,404.2 75.25,400.63 77.45,400.63" fill="#1e1e1e"/>
<polygon points="76.35,393 77.45,396.57 75.25,396.57" fill="#1e1e1e"/>
<line x1="73.45" y1="398.6" x2="79.25" y2="398.6" stroke="#2a2a2a" stroke-width="0.8"/>
<line x1="76.35" y1="395.7" x2="76.35" y2="401.5" stroke="#2a2a2a" stroke-width="0.8"/>
<circle cx="270.8" cy="398.6" r="2.9" fill="none" stroke="#1e1e1e" stroke-width="1.25"/>
<polygon points="276.4,398.6 272.83,399.7 272.83,397.5" fill="#1e1e1e"/>
<polygon points="265.2,398.6 268.77,397.5 268.77,399.7" fill="#1e1e1e"/>
<polygon points="270.8,404.2 269.7,400.63 271.9,400.63" fill="#1e1e1e"/>
<polygon points="270.8,393 271.9,396.57 269.7,396.57" fill="#1e1e1e"/>
<line x1="267.9" y1="398.6" x2="273.7" y2="398.6" stroke="#2a2a2a" stroke-width="0.8"/>
<line x1="270.8" y1="395.7" x2="270.8" y2="401.5" stroke="#2a2a2a" stroke-width="0.8"/>
<path d="M47.1,463.2 V553 Q47.5,558 51,559.6 L133,590 H214.5 L296,559.6 Q299.5,558 299.8,553 V463.2" fill="none" stroke="#2a2a2a" stroke-width="1.2" />
<line x1="51" y1="559.6" x2="296" y2="559.6" stroke="#2a2a2a" stroke-width="1.0"/>
<line x1="47.1" y1="550.4" x2="138.7" y2="550.4" stroke="#2a2a2a" stroke-width="1.0"/>
<line x1="208.4" y1="550.4" x2="299.8" y2="550.4" stroke="#2a2a2a" stroke-width="1.0"/>
<line x1="60.71" y1="563.2" x2="286.35" y2="563.2" stroke="#2a2a2a" stroke-width="0.9"/>
<line x1="70.15" y1="566.7" x2="276.97" y2="566.7" stroke="#2a2a2a" stroke-width="0.9"/>
<line x1="79.59" y1="570.2" x2="267.58" y2="570.2" stroke="#2a2a2a" stroke-width="0.9"/>
<line x1="89.03" y1="573.7" x2="258.2" y2="573.7" stroke="#2a2a2a" stroke-width="0.9"/>
<line x1="98.47" y1="577.2" x2="248.82" y2="577.2" stroke="#2a2a2a" stroke-width="0.9"/>
<line x1="107.91" y1="580.7" x2="239.43" y2="580.7" stroke="#2a2a2a" stroke-width="0.9"/>
<line x1="117.36" y1="584.2" x2="230.05" y2="584.2" stroke="#2a2a2a" stroke-width="0.9"/>
<line x1="126.8" y1="587.7" x2="220.67" y2="587.7" stroke="#2a2a2a" stroke-width="0.9"/>
<polygon points="103.9,559.5 110,559.5 146,590.5 140,590.5" fill="#fff" stroke="#2a2a2a" stroke-width="1.0"/>
<polygon points="239.6,559.5 245.5,559.5 211,590.5 205,590.5" fill="#fff" stroke="#2a2a2a" stroke-width="1.0"/>
<rect x="138.7" y="495.3" width="69.7" height="62.1" rx="3" fill="#fff" stroke="#2a2a2a" stroke-width="1.1"/>
<rect x="142.3" y="498.9" width="62.6" height="55.7" rx="2" fill="none" stroke="#1e1e1e" stroke-width="2.3"/>
<circle cx="146.4" cy="502.7" r="4.2" fill="#fff" stroke="#2a2a2a" stroke-width="1.0"/>
<circle cx="146.4" cy="502.7" r="2.3" fill="none" stroke="#2a2a2a" stroke-width="0.9"/>
<line x1="143.4" y1="502.7" x2="149.4" y2="502.7" stroke="#2a2a2a" stroke-width="0.9"/>
<line x1="146.4" y1="499.7" x2="146.4" y2="505.7" stroke="#2a2a2a" stroke-width="0.9"/>
<circle cx="200.8" cy="502.7" r="4.2" fill="#fff" stroke="#2a2a2a" stroke-width="1.0"/>
<circle cx="200.8" cy="502.7" r="2.3" fill="none" stroke="#2a2a2a" stroke-width="0.9"/>
<line x1="197.8" y1="502.7" x2="203.8" y2="502.7" stroke="#2a2a2a" stroke-width="0.9"/>
<line x1="200.8" y1="499.7" x2="200.8" y2="505.7" stroke="#2a2a2a" stroke-width="0.9"/>
<circle cx="146.4" cy="551" r="4.2" fill="#fff" stroke="#2a2a2a" stroke-width="1.0"/>
<circle cx="146.4" cy="551" r="2.3" fill="none" stroke="#2a2a2a" stroke-width="0.9"/>
<line x1="143.4" y1="551" x2="149.4" y2="551" stroke="#2a2a2a" stroke-width="0.9"/>
<line x1="146.4" y1="548" x2="146.4" y2="554" stroke="#2a2a2a" stroke-width="0.9"/>
<circle cx="200.8" cy="551" r="4.2" fill="#fff" stroke="#2a2a2a" stroke-width="1.0"/>
<circle cx="200.8" cy="551" r="2.3" fill="none" stroke="#2a2a2a" stroke-width="0.9"/>
<line x1="197.8" y1="551" x2="203.8" y2="551" stroke="#2a2a2a" stroke-width="0.9"/>
<line x1="200.8" y1="548" x2="200.8" y2="554" stroke="#2a2a2a" stroke-width="0.9"/>
<line x1="138.7" y1="557.4" x2="138.7" y2="635" stroke="#2a2a2a" stroke-width="1.0"/>
<line x1="208.4" y1="557.4" x2="208.4" y2="635" stroke="#2a2a2a" stroke-width="1.0"/>
<circle cx="100.3" cy="547.3" r="2.6" fill="none" stroke="#1e1e1e" stroke-width="1.25"/>
<polygon points="106.3,547.3 102.12,548.4 102.12,546.2" fill="#1e1e1e"/>
<polygon points="94.3,547.3 98.48,546.2 98.48,548.4" fill="#1e1e1e"/>
<polygon points="100.3,553.3 99.2,549.12 101.4,549.12" fill="#1e1e1e"/>
<polygon points="100.3,541.3 101.4,545.48 99.2,545.48" fill="#1e1e1e"/>
<line x1="97.7" y1="547.3" x2="102.9" y2="547.3" stroke="#2a2a2a" stroke-width="0.8"/>
<line x1="100.3" y1="544.7" x2="100.3" y2="549.9" stroke="#2a2a2a" stroke-width="0.8"/>
<circle cx="246.4" cy="546.8" r="2.6" fill="none" stroke="#1e1e1e" stroke-width="1.25"/>
<polygon points="252.4,546.8 248.22,547.9 248.22,545.7" fill="#1e1e1e"/>
<polygon points="240.4,546.8 244.58,545.7 244.58,547.9" fill="#1e1e1e"/>
<polygon points="246.4,552.8 245.3,548.62 247.5,548.62" fill="#1e1e1e"/>
<polygon points="246.4,540.8 247.5,544.98 245.3,544.98" fill="#1e1e1e"/>
<line x1="243.8" y1="546.8" x2="249" y2="546.8" stroke="#2a2a2a" stroke-width="0.8"/>
<line x1="246.4" y1="544.2" x2="246.4" y2="549.4" stroke="#2a2a2a" stroke-width="0.8"/>
<line x1="24.7" y1="496" x2="138.7" y2="496" stroke="#2a2a2a" stroke-width="1.0"/>
<line x1="24.7" y1="590.7" x2="133" y2="590.7" stroke="#2a2a2a" stroke-width="1.0"/>
<line x1="31" y1="496" x2="31" y2="590.7" stroke="#2a2a2a" stroke-width="1.0"/>
<polygon points="31,496 33.95,507 28.05,507" fill="#1a1a1a"/>
<polygon points="31,590.7 28.05,579.7 33.95,579.7" fill="#1a1a1a"/>
<text x="17" y="551.8" font-size="12.5" text-anchor="middle" fill="#161616" stroke="#161616" stroke-width="0.25" transform="rotate(-90 17 551.8)" >144</text>
<text x="9" y="528" font-size="9" text-anchor="middle" fill="#161616" stroke="#161616" stroke-width="0.25" transform="rotate(-90 9 528)" >+1</text>
<text x="23.2" y="527.5" font-size="10.5" text-anchor="middle" fill="#161616" stroke="#161616" stroke-width="0.25" transform="rotate(-90 23.2 527.5)" >-0</text>
<line x1="122" y1="557.8" x2="138.7" y2="557.8" stroke="#2a2a2a" stroke-width="1.0"/>
<line x1="127.8" y1="496" x2="127.8" y2="557.8" stroke="#2a2a2a" stroke-width="1.0"/>
<polygon points="127.8,496 130.75,507 124.85,507" fill="#1a1a1a"/>
<polygon points="127.8,557.8 124.85,546.8 130.75,546.8" fill="#1a1a1a"/>
<text x="113.8" y="535.3" font-size="13" text-anchor="middle" fill="#161616" stroke="#161616" stroke-width="0.25" transform="rotate(-90 113.8 535.3)" >95</text>
<text x="103.8" y="517" font-size="9" text-anchor="middle" fill="#161616" stroke="#161616" stroke-width="0.25" transform="rotate(-90 103.8 517)" >+1</text>
<text x="119.7" y="516" font-size="10.5" text-anchor="middle" fill="#161616" stroke="#161616" stroke-width="0.25" transform="rotate(-90 119.7 516)" >-0</text>
<line x1="138.7" y1="629.2" x2="208.4" y2="629.2" stroke="#2a2a2a" stroke-width="1.0"/>
<polygon points="138.7,629.2 149.7,626.25 149.7,632.15" fill="#1a1a1a"/>
<polygon points="208.4,629.2 197.4,632.15 197.4,626.25" fill="#1a1a1a"/>
<text x="164" y="617" font-size="12.5" text-anchor="middle" fill="#161616" stroke="#161616" stroke-width="0.25" >105</text>
<text x="189" y="607" font-size="9" text-anchor="middle" fill="#161616" stroke="#161616" stroke-width="0.25" >+1</text>
<text x="189" y="622.5" font-size="10.5" text-anchor="middle" fill="#161616" stroke="#161616" stroke-width="0.25" >-0</text>
<line x1="173.4" y1="20" x2="173.4" y2="640" stroke="#2a2a2a" stroke-width="1.0" stroke-dasharray="17.5 3.9 2.8 4.6" stroke-dashoffset="12.3"/>
<line x1="173.4" y1="20.5" x2="173.4" y2="42" stroke="#2a2a2a" stroke-width="1.0"/>
</svg></body></html>
